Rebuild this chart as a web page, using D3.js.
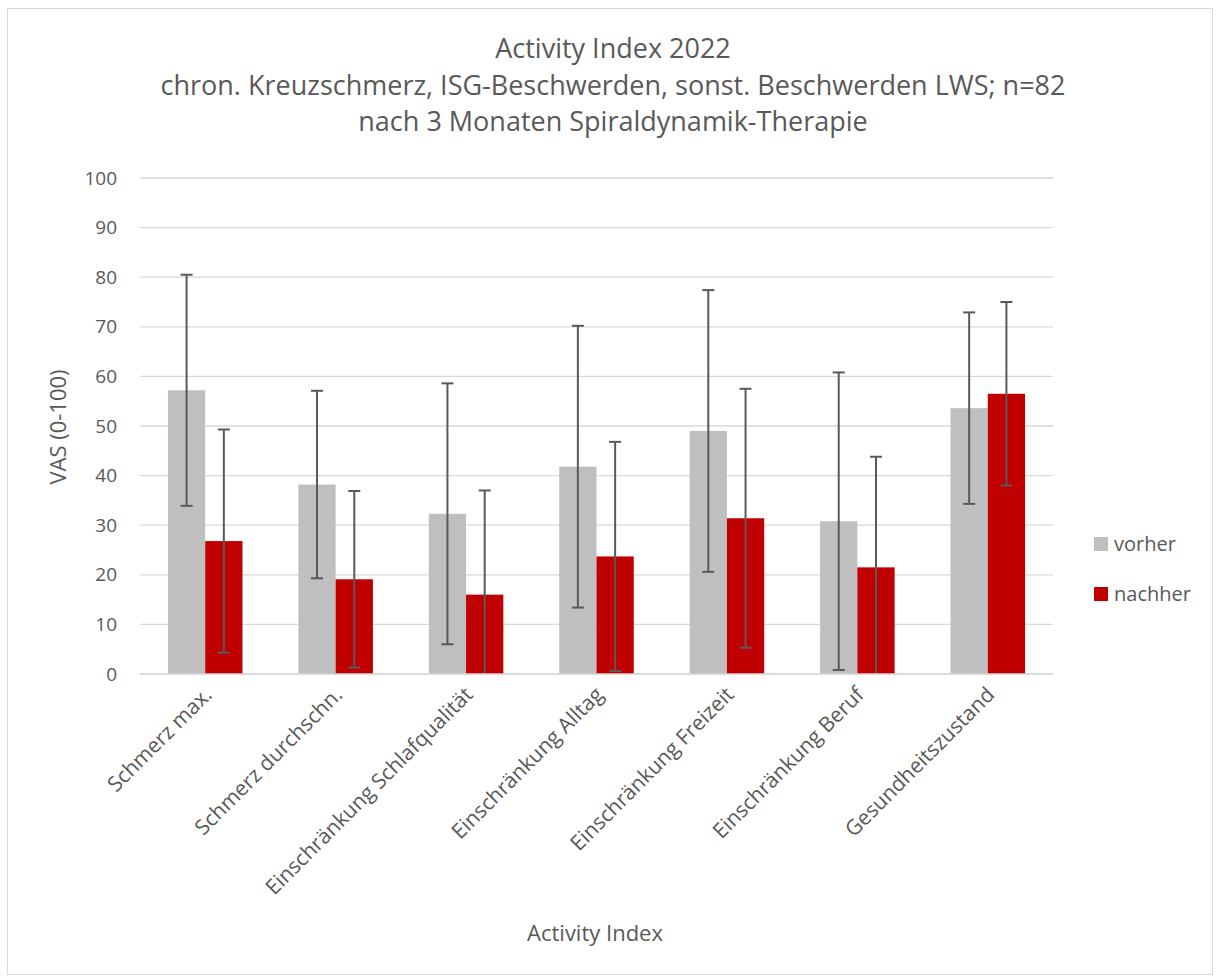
<!DOCTYPE html>
<html><head><meta charset="utf-8">
<script src="https://cdn.jsdelivr.net/npm/d3@7"></script>
<style>body{margin:0;background:#fff}svg{display:block;font-family:"Open Sans",sans-serif}</style>
</head><body><svg id="c" width="1217" height="979"></svg>
<script>
const categories = ["Schmerz max.","Schmerz durchschn.","Einschränkung Schlafqualität","Einschränkung Alltag","Einschränkung Freizeit","Einschränkung Beruf","Gesundheitszustand"];
const seriesNames = ["vorher","nachher"];
const vorher = [57.2, 38.2, 32.3, 41.8, 49.0, 30.8, 53.6];
const nachher = [26.8, 19.1, 16.0, 23.7, 31.4, 21.5, 56.5];
const vorherErr = [23.3, 18.9, 26.3, 28.4, 28.4, 30.0, 19.3];
const nachherErr = [22.5, 17.8, 21.0, 23.1, 26.1, 22.3, 18.5];
const yTicks = [0,10,20,30,40,50,60,70,80,90,100];
const titleLines = ["Activity Index 2022","chron. Kreuzschmerz, ISG-Beschwerden, sonst. Beschwerden LWS; n=82","nach 3 Monaten Spiraldynamik-Therapie"];
const colors = ["#BFBFBF","#C00000"];

const svg = d3.select("#c");
const txt = "#595959";
svg.append("rect").attr("x",7.5).attr("y",8.5).attr("width",1205).attr("height",966).attr("fill","#fff").attr("stroke","#d9d9d9");

const L=140, R=1053, T=178, B=674;
const x0 = d3.scaleBand().domain(categories).range([L,R]).paddingInner(0.4286).paddingOuter(0.2143);
const x1 = d3.scaleBand().domain(seriesNames).range([0,x0.bandwidth()]);
const y = d3.scaleLinear().domain([0,100]).range([B,T]);

// grid
svg.append("g").selectAll("line").data(yTicks).join("line")
  .attr("x1",L).attr("x2",R).attr("y1",d=>y(d)).attr("y2",d=>y(d))
  .attr("stroke","#d9d9d9").attr("stroke-width",1.3);

// y axis labels
const ya = svg.append("g").attr("transform",`translate(${L},0)`).call(d3.axisLeft(y).tickValues(yTicks).tickSize(0).tickPadding(23));
ya.select(".domain").remove();
ya.selectAll("text").attr("font-size",19).attr("fill",txt).attr("font-family","'Open Sans',sans-serif");

const data = [vorher, nachher], errs=[vorherErr, nachherErr];
seriesNames.forEach((s,si)=>{
  const g = svg.append("g");
  g.selectAll("rect").data(categories).join("rect")
    .attr("x",c=>x0(c)+x1(s)).attr("width",x1.bandwidth())
    .attr("y",(c,i)=>y(data[si][i])).attr("height",(c,i)=>B-y(data[si][i]))
    .attr("fill",colors[si]);
});
seriesNames.forEach((s,si)=>{
  const g = svg.append("g").attr("stroke","#595959").attr("stroke-width",2);
  categories.forEach((c,i)=>{
    const cx = x0(c)+x1(s)+x1.bandwidth()/2;
    const hi = data[si][i]+errs[si][i], lo = Math.max(0,data[si][i]-errs[si][i]);
    g.append("line").attr("x1",cx).attr("x2",cx).attr("y1",y(hi)).attr("y2",y(lo));
    g.append("line").attr("x1",cx-6).attr("x2",cx+6).attr("y1",y(hi)).attr("y2",y(hi));
    if (data[si][i]-errs[si][i] > 0)
      g.append("line").attr("x1",cx-6).attr("x2",cx+6).attr("y1",y(lo)).attr("y2",y(lo));
  });
});
// baseline
svg.append("line").attr("x1",L).attr("x2",R).attr("y1",B).attr("y2",B).attr("stroke","#d9d9d9").attr("stroke-width",1.3);

// x labels
const xa = svg.append("g").attr("transform",`translate(0,${B})`).call(d3.axisBottom(x0).tickSize(0).tickPadding(0));
xa.select(".domain").remove();
xa.selectAll("text").attr("font-size",21).attr("fill",txt).attr("font-family","'Open Sans',sans-serif")
  .attr("text-anchor","end").attr("dy",null).attr("y",0)
  .attr("transform","translate(8,22) rotate(-45)");

// titles
svg.append("g").selectAll("text").data(titleLines).join("text")
  .attr("x",613).attr("y",(d,i)=>[58,95,131][i]).attr("text-anchor","middle")
  .attr("font-size",27).attr("fill",txt).text(d=>d);

svg.append("text").attr("transform","translate(66,427) rotate(-90)").attr("text-anchor","middle")
  .attr("font-size",22).attr("fill",txt).text("VAS (0-100)");
svg.append("text").attr("x",595).attr("y",941).attr("text-anchor","middle")
  .attr("font-size",22).attr("fill",txt).text("Activity Index");

// legend
const lg = svg.append("g").selectAll("g").data(seriesNames).join("g")
  .attr("transform",(d,i)=>`translate(1094,${537+i*50})`);
lg.append("rect").attr("width",14).attr("height",14).attr("fill",(d,i)=>colors[i]);
lg.append("text").attr("x",20).attr("y",14).attr("font-size",20).attr("fill",txt).text(d=>d);
</script></body></html>
